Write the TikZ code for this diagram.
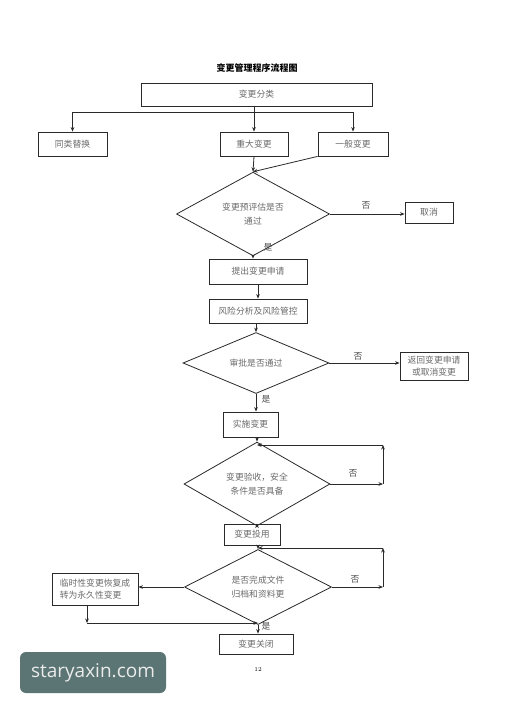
\documentclass[tikz,border=0pt]{standalone}
\usepackage{fontspec}
\newfontfamily\cjk{Noto Sans CJK SC}
\newfontfamily\wm{Open Sans}
\usetikzlibrary{shapes.geometric,arrows.meta}
\definecolor{wmcol}{HTML}{5A7574}
\definecolor{linecol}{HTML}{2A2A2A}
\definecolor{txtcol}{HTML}{6A6A6A}
\begin{document}
\begin{tikzpicture}[x=1pt,y=-1pt,
  box/.style={draw=linecol,line width=0.8pt,rectangle,inner sep=0pt,align=center,
    font=\cjk\fontsize{8.8}{12}\selectfont,text=txtcol},
  dia/.style={draw=linecol,line width=0.8pt,diamond,inner sep=0pt,align=center,
    font=\cjk\fontsize{8.8}{14}\selectfont,text=txtcol},
  arr/.style={draw=linecol,line width=0.8pt,-{Stealth[length=4.5pt,width=3.6pt]}},
  ln/.style={draw=linecol,line width=0.8pt},
  lab/.style={font=\cjk\fontsize{8.8}{9}\selectfont,text=black!70,inner sep=0pt},
]
\useasboundingbox (0,0) rectangle (513,712);
\fill[white] (0,0) rectangle (513,712);

\node[font=\cjk\bfseries\fontsize{9}{10}\selectfont,inner sep=0pt] (title) at (257,68) {变更管理程序流程图};

\node[box,minimum width=231pt,minimum height=23pt] (cls) at (256.5,94.5) {变更分类};
\node[box,minimum width=69pt,minimum height=24pt] (tl) at (72.5,144) {同类替换};
\node[box,minimum width=68pt,minimum height=24pt] (zd) at (254,144) {重大变更};
\node[box,minimum width=70pt,minimum height=24pt] (yb) at (353,144) {一般变更};

\node[dia,minimum width=153pt,minimum height=58pt] (d1) at (253,214) {变更预评估是否\\通过};
\node[box,minimum width=48pt,minimum height=21pt] (qx) at (429,212.5) {取消};
\node[box,minimum width=98pt,minimum height=25pt] (tc) at (258,271.5) {提出变更申请};
\node[box,minimum width=98pt,minimum height=24pt] (fx) at (258,311) {风险分析及风险管控};
\node[dia,minimum width=146pt,minimum height=54pt] (d2) at (256,363) {审批是否通过};
\node[box,minimum width=68pt,minimum height=28pt] (fh) at (434,366) {返回变更申请\\或取消变更};
\node[box,minimum width=55pt,minimum height=25pt] (ss) at (250.5,424.5) {实施变更};
\node[dia,minimum width=146pt,minimum height=62pt] (d3) at (257,484) {变更验收，安全\\条件是否具备};
\node[box,minimum width=56pt,minimum height=21pt] (ty) at (252,534.5) {变更投用};
\node[dia,minimum width=147pt,minimum height=61pt] (d4) at (258,587) {是否完成文件\\归档和资料更};
\node[box,minimum width=86pt,minimum height=32pt,align=left] (ls) at (95,589) {临时性变更恢复成\\转为永久性变更};
\node[box,minimum width=74pt,minimum height=20pt] (gb) at (256,644) {变更关闭};

\node[font=\fontsize{6}{7}\selectfont,inner sep=0pt] (pg) at (258,669) {12};

% top distribution
\coordinate (bl) at (72.5,112);
\coordinate (br) at (353,112);
\draw[ln] (bl) -- (br);
\draw[arr] (bl) -- (tl.north);
\draw[arr] (br) -- (yb.north);
\draw[arr] (zd.north |- cls.south) -- (zd.north);

\draw[arr] (zd.south) -- (d1.north);
\draw[arr] (yb.south west) -- (d1.north);

\draw[arr] (d1.east) -- (d1.east -| qx.west);
\node[lab] (n1) at (366,205) {否};
\draw[arr] (d1.south) -- (d1.south |- tc.north);
\node[lab] (y1) at (268,247) {是};
\draw[arr] (tc.south) -- (fx.north);
\draw[arr] (d2.north |- fx.south) -- (d2.north);

\draw[arr] (d2.east) -- (d2.east -| fh.west);
\node[lab] (n2) at (358,356) {否};
\draw[arr] (d2.south) -- (d2.south |- ss.north);
\node[lab] (y2) at (266,399) {是};

\draw[arr] (d3.north |- ss.south) -- (d3.north);
\coordinate (r1) at (383,484);
\coordinate (r1t) at (383,445);
\draw[arr] (d3.east) -- (r1);
\draw[arr] (r1) -- (r1t);
\draw[arr] (r1t) -- (d3.north |- r1t);
\node[lab] (n3) at (353,473) {否};

\draw[arr] (d3.south) -- (d3.south |- ty.north);

\draw[arr] (d4.north |- ty.south) -- (d4.north);
\coordinate (r2) at (383,587);
\coordinate (r2t) at (383,548);
\draw[arr] (d4.east) -- (r2);
\draw[arr] (r2) -- (r2t);
\draw[arr] (r2t) -- (d4.north |- r2t);
\node[lab] (n4) at (355,579) {否};

\draw[arr] (d4.west) -- (d4.west -| ls.east);
\coordinate (lb) at (87,623);
\draw[arr] (lb |- ls.south) -- (lb);
\draw[arr] (lb) -- (d4.south |- lb);
\draw[arr] (d4.south) -- (d4.south |- gb.north);
\node[lab] (y4) at (266,626) {是};

% watermark
\node[fill=wmcol,rounded corners=6pt,minimum width=146pt,minimum height=41pt,inner sep=0pt,
  text=white!92!black,font=\wm\fontsize{19}{20}\selectfont] (wmk) at (93,672.5) {staryaxin.com};
\end{tikzpicture}
\end{document}
